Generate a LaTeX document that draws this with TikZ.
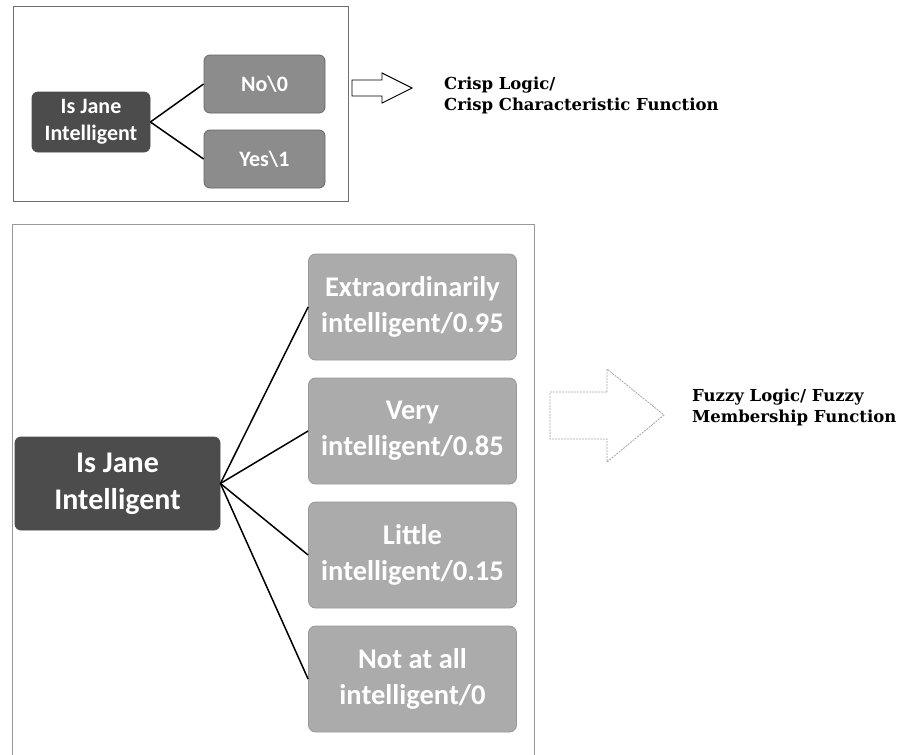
\documentclass[tikz,border=0pt]{standalone}
\usepackage{fontspec}
\setmainfont{Carlito}
\newfontfamily\labelfont{DejaVu Serif}
\definecolor{darkbox}{HTML}{4C4C4C}
\definecolor{midbox}{HTML}{8C8C8C}
\definecolor{lightbox}{HTML}{ABABAB}
\definecolor{framegray}{HTML}{6E6E6E}
\tikzset{
  qbox/.style={draw=black!70, line width=0.8pt, rounded corners=6pt, fill=darkbox, text=white, font=\bfseries, align=center, inner sep=0pt},
  smallans/.style={draw=black!60, line width=0.8pt, rounded corners=6pt, fill=midbox, text=white, font=\fontsize{22}{27}\selectfont\bfseries, align=center, inner sep=0pt, minimum width=121pt, minimum height=58pt},
  bigans/.style={draw=black!40, line width=0.8pt, rounded corners=7pt, fill=lightbox, text=white, font=\fontsize{28.5}{36}\selectfont\bfseries, align=center, inner sep=0pt, minimum width=208pt, minimum height=106pt},
  conn/.style={draw=black, line width=1.5pt},
  sidelabel/.style={font=\labelfont\bfseries\fontsize{16.5}{21}\selectfont, align=left, anchor=west, inner sep=0pt},
  frame/.style={draw=framegray, line width=0.8pt}
}
\begin{document}
\begin{tikzpicture}[x=1pt,y=-1pt]
\useasboundingbox (0,0) rectangle (919,755);
% frames
\draw[frame] (13,6) rectangle (348,201);
\draw[frame, draw=gray!80] (12,755) -- (12,224) -- (534,224) -- (534,755);

% top crisp diagram
\node[qbox, minimum width=118pt, minimum height=60pt, font=\fontsize{22}{27}\selectfont\bfseries] (sq) at (91,122) {Is Jane\\Intelligent};
\node[smallans] (no) at (264.5,84) {No\textbackslash 0};
\node[smallans] (yes) at (264.5,159) {Yes\textbackslash 1};
\draw[conn] (sq.east) -- (no.west);
\draw[conn] (sq.east) -- (yes.west);

% crisp arrow
\draw[black, line width=0.9pt, fill=white] (352,80) -- (382,80) -- (382,73) -- (412,88) -- (382,103) -- (382,96) -- (352,96) -- cycle;
\node[sidelabel] (crisp) at (444,95) {Crisp Logic/\\Crisp Characteristic Function};

% bottom fuzzy diagram
\node[qbox, minimum width=205pt, minimum height=93pt, font=\fontsize{30}{37}\selectfont\bfseries] (bq) at (117.5,483.5) {Is Jane\\Intelligent};
\node[bigans] (ext) at (412.5,307) {Extraordinarily\\intelligent/0.95};
\node[bigans] (very) at (412.5,431) {Very\\intelligent/0.85};
\node[bigans] (little) at (412.5,555) {Little\\intelligent/0.15};
\node[bigans] (notall) at (412.5,679) {Not at all\\intelligent/0};
\foreach \t in {ext,very,little,notall} {
  \draw[conn] (bq.east) -- (\t.west);
}

% fuzzy arrow
\draw[gray!70, line width=0.8pt, dash pattern=on 2pt off 1pt, fill=white] (550,392) -- (607,392) -- (607,369) -- (664,415) -- (607,462) -- (607,439) -- (550,439) -- cycle;
\node[sidelabel] (fuzzy) at (692,407) {Fuzzy Logic/ Fuzzy\\Membership Function};
\end{tikzpicture}
\end{document}
